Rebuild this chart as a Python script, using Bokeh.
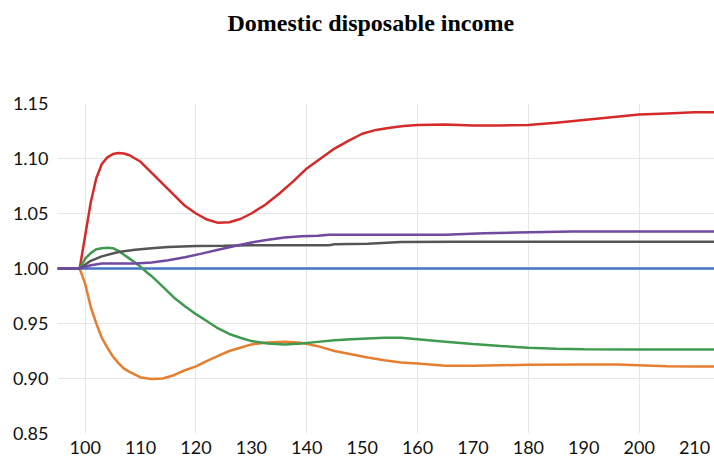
from bokeh.plotting import figure
from bokeh.models import Range1d, FixedTicker, NumeralTickFormatter, Title
from bokeh.embed import file_html
from bokeh.resources import INLINE

# ---- data ----
blue_x = [95, 214]
blue_y = [1.0, 1.0]

red_x = [95, 99, 100, 101, 102, 103, 104, 105, 106, 107, 108, 109, 110, 112, 114, 116, 118, 120,
         122, 124, 126, 128, 130, 132.5, 135, 137.5, 140, 142.5, 145, 147.5, 150, 152.5, 155,
         157.5, 160, 165, 170, 175, 180, 185, 190, 195, 200, 205, 210, 214]
red_y = [1.0, 1.0, 1.03, 1.06, 1.082, 1.095, 1.101, 1.104, 1.105, 1.1045, 1.103, 1.100, 1.097,
         1.087, 1.077, 1.067, 1.057, 1.050, 1.0445, 1.0415, 1.042, 1.045, 1.050, 1.058, 1.068,
         1.079, 1.091, 1.100, 1.109, 1.116, 1.1225, 1.126, 1.128, 1.1295, 1.1305, 1.131, 1.130,
         1.130, 1.1305, 1.1325, 1.135, 1.1375, 1.140, 1.141, 1.142, 1.142]

orange_x = [95, 99, 100, 101, 102, 103, 104, 105, 106, 107, 108, 110, 112, 114, 116, 118, 120,
            122, 124, 126, 128, 130, 133, 136, 139, 142, 145, 148, 151, 154, 157, 160, 165, 170,
            175, 180, 190, 196, 200, 205, 210, 214]
orange_y = [1.0, 1.0, 0.986, 0.965, 0.950, 0.937, 0.928, 0.920, 0.914, 0.909, 0.906, 0.901,
            0.8995, 0.900, 0.903, 0.9075, 0.911, 0.916, 0.9205, 0.925, 0.928, 0.931, 0.9327,
            0.9333, 0.9324, 0.9294, 0.925, 0.922, 0.919, 0.9166, 0.9146, 0.9136, 0.9115, 0.9115,
            0.912, 0.9125, 0.9128, 0.9128, 0.912, 0.9112, 0.911, 0.911]

green_x = [95, 99, 100, 101, 102, 103, 104, 105, 106, 107, 108, 109, 110, 111, 112, 114, 116,
           118, 120, 122, 124, 126, 128, 130, 133, 136, 139, 142, 145, 148, 151, 154, 157, 160,
           165, 170, 175, 180, 185, 190, 200, 214]
green_y = [1.0, 1.0, 1.009, 1.014, 1.0175, 1.0185, 1.0188, 1.0185, 1.016, 1.0125, 1.009, 1.0055,
           1.0015, 0.997, 0.993, 0.9835, 0.9737, 0.9657, 0.9585, 0.952, 0.9455, 0.9405, 0.937,
           0.934, 0.9318, 0.931, 0.9318, 0.9333, 0.9348, 0.9357, 0.9364, 0.937, 0.937, 0.9357,
           0.9335, 0.9313, 0.9295, 0.928, 0.927, 0.9265, 0.9264, 0.9264]

black_x = [95, 99, 101, 103, 106, 109, 112, 115, 120, 125, 130, 144, 145, 151, 157, 167, 214]
black_y = [1.0, 1.0, 1.007, 1.011, 1.015, 1.017, 1.0185, 1.0195, 1.0204, 1.0207, 1.0212, 1.0212,
           1.022, 1.0225, 1.024, 1.0243, 1.0243]

purple_x = [95, 99, 101, 103, 106, 109, 112, 115, 118, 121, 124, 127, 130, 133, 136, 139, 142,
            144, 165, 172, 178, 188, 214]
purple_y = [1.0, 1.0, 1.003, 1.0045, 1.0045, 1.0045, 1.0055, 1.0075, 1.0103, 1.0135, 1.017,
            1.0205, 1.0237, 1.0262, 1.0282, 1.0293, 1.0297, 1.0306, 1.0306, 1.0321, 1.0327,
            1.0336, 1.0336]

x_ticks = [100, 110, 120, 130, 140, 150, 160, 170, 180, 190, 200, 210]
y_ticks = [0.85, 0.90, 0.95, 1.00, 1.05, 1.10, 1.15]
title_text = "Domestic disposable income"

# ---- figure ----
p = figure(width=714, height=463, output_backend="svg", toolbar_location=None,
           x_range=Range1d(95, 213.6), y_range=Range1d(0.85, 1.15),
           min_border_left=57, min_border_right=0, min_border_top=103, min_border_bottom=30)
p.outline_line_color = None
p.background_fill_color = "white"
p.border_fill_color = "white"

# spacer title next to the frame, then the real title outside it
p.add_layout(Title(text=" ", text_font_size="1px", standoff=65), "above")
p.add_layout(Title(text=title_text, text_font="Liberation Serif", text_font_size="24px",
                   text_font_style="bold", text_color="black", align="left",
                   offset=170, standoff=0), "above")

tick_font = "Lato"
for ax in (p.xaxis[0], p.yaxis[0]):
    ax.axis_line_color = None
    ax.major_tick_line_color = None
    ax.minor_tick_line_color = None
    ax.major_tick_out = 0
    ax.major_tick_in = 0
    ax.major_label_text_font = tick_font
    ax.major_label_text_font_size = "18px"
    ax.major_label_text_color = "#111111"
p.xaxis.ticker = FixedTicker(ticks=x_ticks)
p.yaxis.ticker = FixedTicker(ticks=y_ticks)
p.yaxis.formatter = NumeralTickFormatter(format="0.00")
p.yaxis.major_label_standoff = 9
p.xaxis.major_label_standoff = 7

p.xgrid.ticker = FixedTicker(ticks=[100, 120, 140, 160, 180, 200])
p.ygrid.ticker = FixedTicker(ticks=[0.90, 0.95, 1.00, 1.05, 1.10])
p.xgrid.grid_line_color = "#e6e6e6"
p.ygrid.grid_line_color = "#e6e6e6"
p.xgrid.grid_line_width = 1
p.ygrid.grid_line_width = 1

lw = 2.5
p.line(blue_x, blue_y, line_color="#4472c4", line_width=lw)
p.line(red_x, red_y, line_color="#d62a2a", line_width=lw)
p.line(orange_x, orange_y, line_color="#e67e30", line_width=lw)
p.line(green_x, green_y, line_color="#3f9a50", line_width=lw)
p.line(black_x, black_y, line_color="#555555", line_width=lw)
p.line(purple_x, purple_y, line_color="#7049a0", line_width=lw)

open("out.html", "w").write(file_html(p, INLINE))
